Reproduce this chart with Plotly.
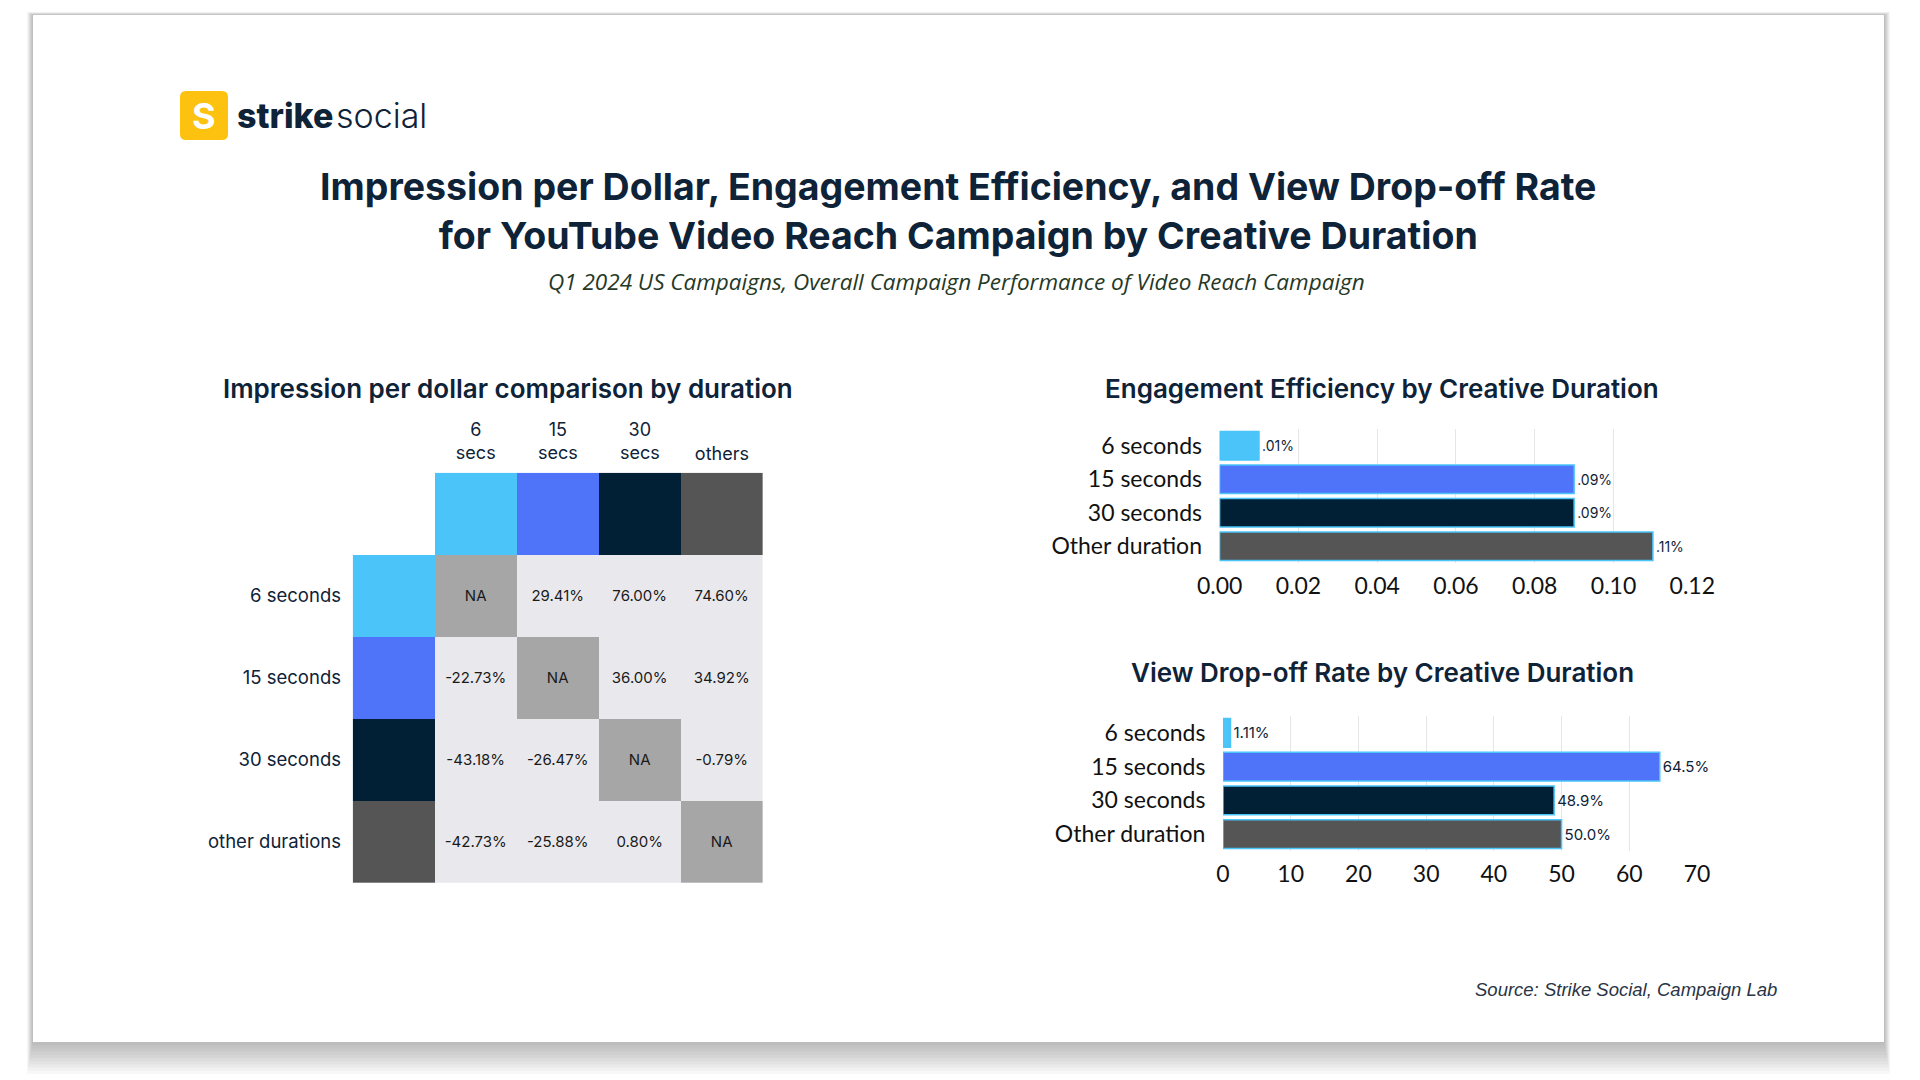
import plotly.graph_objects as go

# ---------------- data ----------------
durations_hm = ["6 seconds", "15 seconds", "30 seconds", "other durations"]
col_labels_hm = ["6<br>secs", "15<br>secs", "30<br>secs", "others"]
ipd_matrix = [
    [None, 29.41, 76.00, 74.60],
    [-22.73, None, 36.00, 34.92],
    [-43.18, -26.47, None, -0.79],
    [-42.73, -25.88, 0.80, None],
]

bar_categories = ["6 seconds", "15 seconds", "30 seconds", "Other duration"]
engagement_values = [0.01, 0.09, 0.09, 0.11]
dropoff_values = [1.11, 64.5, 48.9, 50.0]
dropoff_labels = ["1.11%", "64.5%", "48.9%", "50.0%"]

duration_colors = ["#4AC4F9", "#4F73F9", "#022035", "#555555"]
NA_COLOR = "#A6A6A6"
CELL_COLOR = "#E9E9ED"
NAVY = "#0E2238"

W, H = 1920, 1080
def px(x):
    return x / W
def py(y):
    return 1 - y / H

fig = go.Figure()

# ---------------- heatmap ----------------
n = len(durations_hm)
z, text = [], []
z.append([0] + [i + 1 for i in range(n)])
text.append([""] * (n + 1))
for i in range(n):
    zr, tr = [i + 1], [""]
    for j in range(n):
        v = ipd_matrix[i][j]
        if v is None:
            zr.append(5)
            tr.append("NA")
        else:
            zr.append(6)
            tr.append(f"{v:.2f}%")
    z.append(zr)
    text.append(tr)

colorscale = [[0, "#FFFFFF"]] + [[(k + 1) / 6, c] for k, c in enumerate(duration_colors)] + \
             [[5 / 6, NA_COLOR], [1, CELL_COLOR]]

fig.add_trace(go.Heatmap(
    z=z, x=list(range(n + 1)), y=list(range(n + 1)), text=text,
    texttemplate="%{text}", textfont=dict(family="Inter", size=15, color="#1A1A1A"),
    colorscale=colorscale, zmin=0, zmax=6, showscale=False, hoverinfo="skip",
    xaxis="x", yaxis="y",
))

# ---------------- bar 1 ----------------
fig.add_trace(go.Bar(
    x=engagement_values, y=bar_categories, orientation="h",
    marker=dict(color=duration_colors, line=dict(color="#4AC4F9", width=1.5)),
    text=[("%.2f%%" % v).lstrip("0") for v in engagement_values],
    textposition="outside", cliponaxis=False,
    textfont=dict(family="Inter", size=14, color=NAVY),
    xaxis="x2", yaxis="y2", hoverinfo="skip",
))

# ---------------- bar 2 ----------------
fig.add_trace(go.Bar(
    x=dropoff_values, y=bar_categories, orientation="h",
    marker=dict(color=duration_colors, line=dict(color="#4AC4F9", width=1.5)),
    text=dropoff_labels,
    textposition="outside", cliponaxis=False,
    textfont=dict(family="Inter", size=15, color=NAVY),
    xaxis="x3", yaxis="y3", hoverinfo="skip",
))

lbl_font = dict(family="Lato", size=23, color="#111111")
hide = "rgba(0,0,0,0)"

fig.update_layout(
    width=W, height=H, margin=dict(l=0, r=0, t=0, b=0, pad=0), autosize=False,
    paper_bgcolor="#FFFFFF", plot_bgcolor="rgba(0,0,0,0)",
    showlegend=False, bargap=0.15,
    xaxis=dict(domain=[px(352.7), px(762.9)], range=[-0.5, 4.5], side="top",
               tickvals=[1, 2, 3, 4], ticktext=col_labels_hm, showgrid=False,
               zeroline=False, showline=False, ticks="outside", ticklen=5, tickcolor=hide,
               tickfont=dict(family="Inter", size=18, color=NAVY), anchor="y",
               fixedrange=True, automargin=False),
    yaxis=dict(domain=[py(882.9), py(472.7)], range=[4.5, -0.5],
               tickvals=[1, 2, 3, 4], ticktext=durations_hm, showgrid=False,
               zeroline=False, showline=False, ticks="outside", ticklen=7, tickcolor=hide,
               tickfont=dict(family="Inter", size=18.5, color=NAVY), anchor="x",
               fixedrange=True, automargin=False),
    xaxis2=dict(domain=[px(1219.6), px(1692.3)], range=[0, 0.12], dtick=0.02,
                tickformat=".2f", showgrid=True, gridcolor="#E6E6E6", zeroline=False,
                showline=False, ticks="outside", ticklen=2, tickcolor=hide,
                tickfont=lbl_font, anchor="y2", automargin=False),
    yaxis2=dict(domain=[py(563), py(429)], type="category", range=[3.5, -0.5],
                showgrid=False, zeroline=False, showline=False, ticks="outside",
                ticklen=12, tickcolor=hide, tickfont=lbl_font, anchor="x2", automargin=False),
    xaxis3=dict(domain=[px(1223), px(1697)], range=[0, 70], dtick=10,
                showgrid=True, gridcolor="#E6E6E6", zeroline=False,
                showline=False, ticks="outside", ticklen=2, tickcolor=hide,
                tickfont=lbl_font, anchor="y3", automargin=False),
    yaxis3=dict(domain=[py(851), py(716)], type="category", range=[3.5, -0.5],
                showgrid=False, zeroline=False, showline=False, ticks="outside",
                ticklen=12, tickcolor=hide, tickfont=lbl_font, anchor="x3", automargin=False),
)

# ---------------- card & shadow ----------------
shapes = []
for i in range(10, 0, -1):
    shapes.append(dict(type="rect", xref="paper", yref="paper", layer="below",
                       x0=px(33 - i * 0.6), x1=px(1884 + i * 0.6),
                       y0=py(1042 + i * 3.2), y1=py(15 - i * 0.3),
                       line=dict(width=0), fillcolor="rgba(0,0,0,0.028)"))
shapes.append(dict(type="rect", xref="paper", yref="paper", layer="below",
                   x0=px(33), x1=px(1884), y0=py(1042), y1=py(15),
                   line=dict(width=0), fillcolor="#FFFFFF"))
# logo icon (rounded square)
x0, x1, y0, y1, r = px(180), px(228), py(140), py(91), 6
rx, ry = r / W, r / H
path = (f"M {x0+rx},{y0} L {x1-rx},{y0} Q {x1},{y0} {x1},{y0+ry} L {x1},{y1-ry} "
        f"Q {x1},{y1} {x1-rx},{y1} L {x0+rx},{y1} Q {x0},{y1} {x0},{y1-ry} "
        f"L {x0},{y0+ry} Q {x0},{y0} {x0+rx},{y0} Z")
shapes.append(dict(type="path", xref="paper", yref="paper", path=path,
                   line=dict(width=0), fillcolor="#FDC20F", layer="above"))
fig.update_layout(shapes=shapes)

# ---------------- texts ----------------
ann = []
ann.append(dict(text="<b>S</b>", x=px(204), y=py(116), xref="paper", yref="paper",
                showarrow=False, font=dict(family="Inter", size=36, color="#FFFFFF"),
                xanchor="center", yanchor="middle"))
ann.append(dict(text="strike", x=px(235), y=py(115), xref="paper", yref="paper",
                showarrow=False, font=dict(family="Inter", size=34, color=NAVY, weight=800),
                xanchor="left", yanchor="middle"))
ann.append(dict(text="social", x=px(334), y=py(115), xref="paper", yref="paper",
                showarrow=False, font=dict(family="Inter", size=34, color=NAVY, weight=300),
                xanchor="left", yanchor="middle"))
ann.append(dict(text="Impression per Dollar, Engagement Efficiency, and View Drop-off Rate"
                     "<br>for YouTube Video Reach Campaign by Creative Duration",
                x=px(958), y=py(211), xref="paper", yref="paper", showarrow=False,
                font=dict(family="Inter", size=37.5, color=NAVY, weight=700),
                xanchor="center", yanchor="middle", align="center"))
ann.append(dict(text="<i>Q1 2024 US Campaigns, Overall Campaign Performance of Video Reach Campaign</i>",
                x=px(956), y=py(281), xref="paper", yref="paper", showarrow=False,
                font=dict(family="Open Sans", size=22.5, color="#263826", weight=400),
                xanchor="center", yanchor="middle"))
for t, xc, yc in [("Impression per dollar comparison by duration", 508, 388),
                  ("Engagement Efficiency by Creative Duration", 1382, 388),
                  ("View Drop-off Rate by Creative Duration", 1382, 672)]:
    ann.append(dict(text=t, x=px(xc), y=py(yc), xref="paper", yref="paper", showarrow=False,
                    font=dict(family="Inter", size=26, color=NAVY, weight=600),
                    xanchor="center", yanchor="middle"))
ann.append(dict(text="<i>Source: Strike Social, Campaign Lab</i>", x=px(1779), y=py(989),
                xref="paper", yref="paper", showarrow=False,
                font=dict(family="Liberation Sans", size=18.5, color="#2A3444"),
                xanchor="right", yanchor="middle"))
fig.update_layout(annotations=ann)

fig.write_html("out.html", config={"displayModeBar": False},
               post_script="document.body.style.margin='0';")
